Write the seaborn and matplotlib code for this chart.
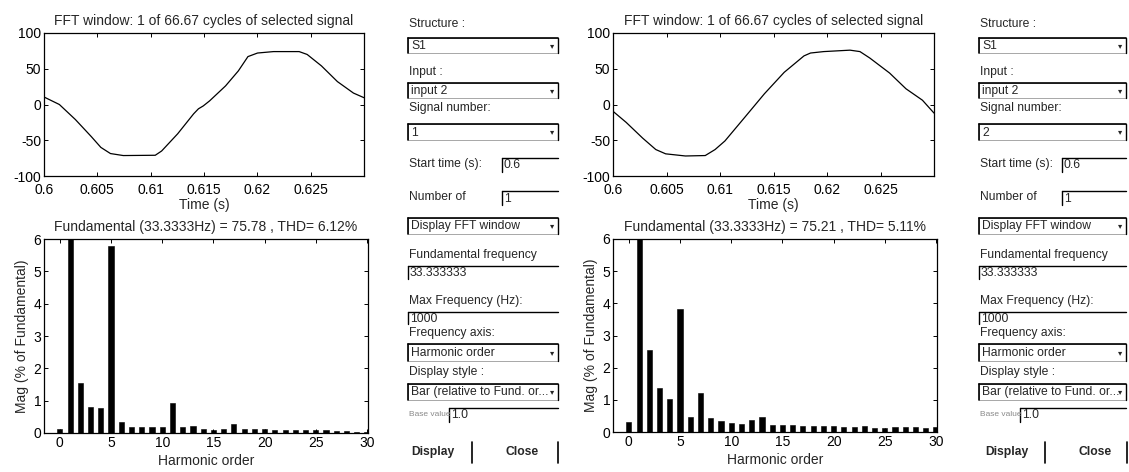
import matplotlib
matplotlib.use('Agg')
import matplotlib.pyplot as plt
from matplotlib.patches import Rectangle
import seaborn as sns

W, H = 1129, 472

# FFT window signal (time in s, amplitude)
t_sig1 = [0.6, 0.60144, 0.60294, 0.60444, 0.60533, 0.60623, 0.60743, 0.61043, 0.61103,
          0.61253, 0.61403, 0.61448, 0.61493, 0.61552, 0.61702, 0.61822, 0.61912, 0.62002,
          0.62152, 0.62392, 0.62467, 0.62601, 0.62751, 0.62901, 0.63]
v_sig1 = [10.5, 0, -21, -45, -60, -68.6, -71.4, -71, -65,
          -41, -13, -6, -2, 5, 26, 47, 67, 72,
          74, 74, 70, 54, 32, 16, 9.5]

t_sig2 = [0.6, 0.60123, 0.60277, 0.604, 0.60492, 0.60677, 0.60862, 0.60954, 0.61046,
          0.61231, 0.61415, 0.616, 0.61785, 0.61846, 0.61969, 0.62215, 0.62308, 0.624,
          0.62585, 0.62738, 0.62892, 0.63]
v_sig2 = [-9.5, -25, -47, -63, -69, -72, -71.4, -63, -51,
          -18, 15, 45, 68, 72, 74, 76, 74, 65,
          44, 22, 6, -12]

# harmonic spectrum (% of fundamental), harmonic 1 = 100 is clipped by the axis
harmonics = list(range(31))
mag_sig1 = [0.12, 100, 1.54, 0.80, 0.76, 5.77, 0.33, 0.18, 0.18, 0.18, 0.20,
            0.92, 0.18, 0.22, 0.12, 0.10, 0.12, 0.27, 0.13, 0.12, 0.12,
            0.08, 0.08, 0.08, 0.08, 0.09, 0.08, 0.06, 0.06, 0.04, 0.03]
mag_sig2 = [0.30, 100, 2.55, 1.38, 1.02, 3.81, 0.48, 1.20, 0.42, 0.34, 0.29,
            0.25, 0.37, 0.47, 0.21, 0.23, 0.23, 0.20, 0.20, 0.20, 0.20,
            0.17, 0.17, 0.19, 0.13, 0.13, 0.14, 0.14, 0.14, 0.12, 0.14]

fund_vals = [75.78, 75.21]
thd_vals = [6.12, 5.11]
signal_numbers = ['1', '2']

sns.set_style('ticks')
plt.rcParams['font.family'] = ['Liberation Sans', 'DejaVu Sans']
plt.rcParams['axes.unicode_minus'] = False

fig = plt.figure(figsize=(W / 100, H / 100), dpi=100)

# overlay in pixel coords for the GUI controls
gui = fig.add_axes([0, 0, 1, 1], zorder=-1)
gui.set_xlim(0, W)
gui.set_ylim(H, 0)
gui.axis('off')

GFS = 8.7


def px_axes(x0, y0, x1, y1):
    return fig.add_axes([x0 / W, 1 - y1 / H, (x1 - x0) / W, (y1 - y0) / H])


def matlab_box(ax):
    ax.tick_params(direction='in', top=True, right=True, length=3, width=0.7,
                   labelsize=10, pad=2, colors='black')
    for s in ax.spines.values():
        s.set_visible(True)
        s.set_linewidth(0.9)
        s.set_color('black')


def dropdown(x0, x1, y0, y1, label):
    gui.add_patch(Rectangle((x0, y0), x1 - x0, y1 - y0, fc='white', ec='#999999', lw=0.6))
    gui.plot([x0, x1], [y0, y0], color='black', lw=1.2)
    gui.plot([x0, x0], [y0, y1], color='black', lw=1.2)
    gui.plot([x1, x1], [y0, y1], color='black', lw=1.0)
    gui.text(x0 + 3, (y0 + y1) / 2 + 0.5, label, va='center', ha='left', fontsize=GFS)
    gui.text(x1 - 6, (y0 + y1) / 2, '▾', va='center', ha='center', fontsize=6,
             family=['DejaVu Sans'])


def editbox(x0, x1, y0, label, h=14):
    gui.plot([x0, x1], [y0, y0], color='black', lw=1.0)
    gui.plot([x0, x0], [y0, y0 + h], color='black', lw=1.0)
    gui.text(x0 + 2, y0 + h / 2 + 0.5, label, va='center', ha='left', fontsize=GFS)


def gui_panel(x0, x1, xe, xb, btn, sig):
    lbl = dict(va='center', ha='left', fontsize=GFS)
    gui.text(x0 + 1, 24, 'Structure :', **lbl)
    dropdown(x0, x1, 38, 53, 'S1')
    gui.text(x0 + 1, 72, 'Input :', **lbl)
    dropdown(x0, x1, 83, 98, 'input 2')
    gui.text(x0 + 1, 108, 'Signal number:', **lbl)
    dropdown(x0, x1, 124, 140, sig)
    gui.text(x0 + 1, 164, 'Start time (s):', **lbl)
    editbox(xe, x1, 158, '0.6')
    gui.text(x0 + 1, 197, 'Number of', **lbl)
    editbox(xe, x1, 191, '1')
    dropdown(x0, x1, 218, 234, 'Display FFT window')
    gui.text(x0 + 1, 255, 'Fundamental frequency', **lbl)
    editbox(x0, x1, 266, '33.333333', h=13)
    gui.text(x0 + 1, 301, 'Max Frequency (Hz):', **lbl)
    editbox(x0, x1, 312, '1000', h=12)
    gui.text(x0 + 1, 333, 'Frequency axis:', **lbl)
    dropdown(x0, x1, 344, 361, 'Harmonic order')
    gui.text(x0 + 1, 372, 'Display style :', **lbl)
    dropdown(x0, x1, 384, 400, 'Bar (relative to Fund. or...')
    gui.text(x0 + 1, 415, 'Base value', color='#8a8a8a', va='center', ha='left', fontsize=6)
    editbox(xb, x1, 408, '1.0')
    b_disp, sep1, b_close, sep2 = btn
    gui.text(b_disp, 452, 'Display', ha='center', va='center', fontsize=GFS, fontweight='bold')
    gui.text(b_close, 452, 'Close', ha='center', va='center', fontsize=GFS, fontweight='bold')
    for sx in (sep1, sep2):
        gui.plot([sx, sx], [442, 463], color='black', lw=1.2)


panels = [
    dict(t=t_sig1, v=v_sig1, mag=mag_sig1, top=(44, 33, 364, 176), bot=(44, 239, 368, 433)),
    dict(t=t_sig2, v=v_sig2, mag=mag_sig2, top=(613, 33, 934, 176), bot=(613, 239, 937, 432)),
]

for i, p in enumerate(panels):
    ax = px_axes(*p['top'])
    sns.lineplot(x=p['t'], y=p['v'], ax=ax, color='black', linewidth=0.9, estimator=None)
    ax.set_xlim(0.6, 0.63)
    ax.set_ylim(-100, 100)
    ax.set_xticks([0.6, 0.605, 0.61, 0.615, 0.62, 0.625])
    ax.set_xticklabels(['0.6', '0.605', '0.61', '0.615', '0.62', '0.625'])
    ax.set_yticks([-100, -50, 0, 50, 100])
    ax.set_title('FFT window: 1 of 66.67 cycles of selected signal', fontsize=10, pad=6)
    ax.set_xlabel('Time (s)', fontsize=10, labelpad=1)
    matlab_box(ax)
    ax.tick_params(axis='x', pad=5)

    bx = px_axes(*p['bot'])
    sns.barplot(x=harmonics, y=p['mag'], ax=bx, color='black', saturation=1,
                width=0.5, native_scale=True, errorbar=None, edgecolor='black', linewidth=0.4)
    bx.set_xlim(-1.55, 30.1)
    bx.set_ylim(0, 6)
    bx.set_xticks([0, 5, 10, 15, 20, 25, 30])
    bx.set_xticklabels(['0', '5', '10', '15', '20', '25', '30'])
    bx.set_yticks([0, 1, 2, 3, 4, 5, 6])
    bx.set_title('Fundamental (33.3333Hz) = %.2f , THD= %.2f%%' % (fund_vals[i], thd_vals[i]),
                 fontsize=10, pad=6)
    bx.set_xlabel('Harmonic order', fontsize=10, labelpad=3)
    bx.set_ylabel('Mag (% of Fundamental)', fontsize=10, labelpad=3)
    matlab_box(bx)

gui_panel(408, 558, 502, 449, (433, 472, 522, 558), signal_numbers[0])
gui_panel(979, 1126, 1062, 1020, (1007, 1045, 1095, 1127), signal_numbers[1])

fig.savefig('out.png', dpi=100, facecolor='white')
